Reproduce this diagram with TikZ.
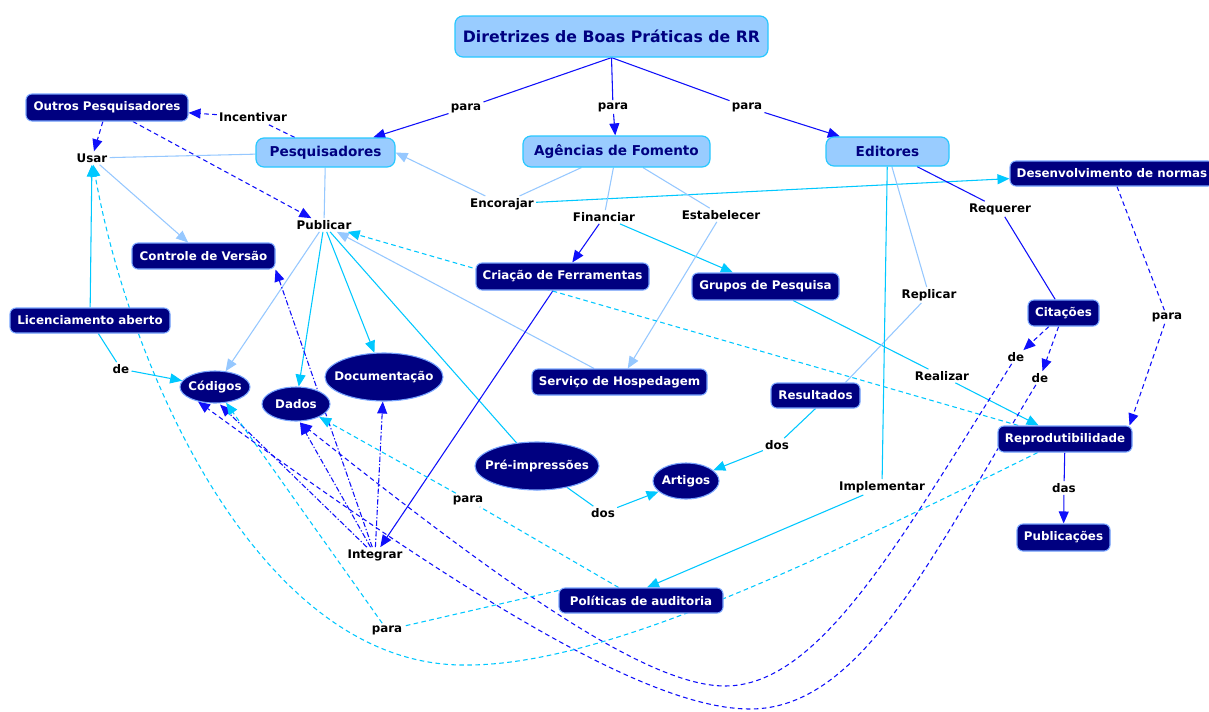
\documentclass[tikz,border=0pt]{standalone}
\usepackage{fontspec}
\setmainfont{DejaVu Sans}
\usetikzlibrary{arrows.meta,calc,shapes.geometric}
\definecolor{navy}{RGB}{0,0,128}
\definecolor{navyrim}{RGB}{120,165,255}
\definecolor{skyfill}{RGB}{153,204,255}
\definecolor{skyrim}{RGB}{40,200,255}
\definecolor{linkblue}{RGB}{15,15,250}
\definecolor{linkcyan}{RGB}{0,200,255}
\definecolor{linklight}{RGB}{150,200,255}
\pgfdeclarelayer{bg}
\pgfdeclarelayer{edges}
\pgfsetlayers{bg,edges,main}
\begin{document}
\begin{tikzpicture}[x=0.75pt,y=-0.75pt,
  sz/.style 2 args={minimum width=#1*0.75pt, minimum height=#2*0.75pt},
  topic/.style={rounded corners=6pt, fill=skyfill, draw=skyrim, line width=0.9pt,
    text=navy, inner sep=0pt, font=\bfseries\fontsize{10.2}{12}\selectfont},
  headline/.style={topic, font=\bfseries\fontsize{11.8}{14}\selectfont},
  concept/.style={rounded corners=4.5pt, fill=navy, draw=navyrim, line width=0.8pt,
    text=white, inner sep=0pt, font=\bfseries\fontsize{8.9}{11}\selectfont},
  oval/.style={ellipse, fill=navy, draw=navyrim, line width=0.8pt,
    text=white, inner sep=0pt, font=\bfseries\fontsize{8.9}{11}\selectfont},
  phrase/.style={text=black, inner sep=1.5pt, font=\bfseries\fontsize{8.9}{11}\selectfont},
  ln/.style={line width=0.8pt},
  blueln/.style={ln, draw=linkblue},
  cyanln/.style={ln, draw=linkcyan},
  lightln/.style={ln, draw=linklight},
  tip/.style={-{Triangle[length=9pt,width=7.5pt]}},
  dsh/.style={dash pattern=on 3.5pt off 2.5pt},
  dotdash/.style={dash pattern=on 4pt off 1.5pt on 1pt off 1.5pt}
]
\useasboundingbox (0,0) rectangle (1209,711);
\begin{pgfonlayer}{bg}
  \fill[white] (0,0) rectangle (1209,711);
\end{pgfonlayer}

% concepts
\node[headline, sz={313}{41}] (dir) at (611.5,36.5) {Diretrizes de Boas Práticas de RR};
\node[topic, sz={139}{29}] (pesq) at (325.5,152.5) {Pesquisadores};
\node[topic, sz={187}{31}] (agen) at (616.5,151.5) {Agências de Fomento};
\node[topic, sz={123}{29}] (edit) at (887.5,151.5) {Editores};
\node[concept, sz={162}{27}] (outros) at (107,107.5) {Outros Pesquisadores};
\node[concept, sz={204}{25}] (desenv) at (1112,173.5) {Desenvolvimento de normas};
\node[concept, sz={143}{26}] (controle) at (203.5,256) {Controle de Versão};
\node[concept, sz={173}{27}] (criacao) at (562.5,276.5) {Criação de Ferramentas};
\node[concept, sz={147}{27}] (grupos) at (765.5,286.5) {Grupos de Pesquisa};
\node[concept, sz={71}{26}] (citacoes) at (1063.5,313) {Citações};
\node[concept, sz={160}{25}] (licenc) at (90,320.5) {Licenciamento aberto};
\node[oval, sz={70}{32}] (codigos) at (215,387) {\makebox[0pt]{Códigos}};
\node[oval, sz={68}{34}] (dados) at (296,404) {\makebox[0pt]{Dados}};
\node[oval, sz={118}{48}] (doc) at (384,377) {\makebox[0pt]{Documentação}};
\node[concept, sz={175}{26}] (servico) at (619.5,382) {Serviço de Hospedagem};
\node[concept, sz={89}{25}] (resultados) at (815.5,395.5) {Resultados};
\node[concept, sz={134}{26}] (reprod) at (1065,439) {Reprodutibilidade};
\node[oval, sz={124}{48}] (preimp) at (537,466) {\makebox[0pt]{Pré-impressões}};
\node[oval, sz={66}{36}] (artigos) at (686,481) {\makebox[0pt]{Artigos}};
\node[concept, sz={93}{27}] (publicacoes) at (1063.5,537.5) {Publicações};
\node[concept, sz={164}{25}] (politicas) at (641,600.5) {Políticas de auditoria};

% linking phrases
\node[phrase] (paraA) at (466,108) {para};
\node[phrase] (paraB) at (613,107) {para};
\node[phrase] (paraC) at (747,107) {para};
\node[phrase] (incentivar) at (253,117) {Incentivar};
\node[phrase] (usar) at (92,158) {Usar};
\node[phrase] (publicar) at (324,225) {Publicar};
\node[phrase] (encorajar) at (502,204) {Encorajar};
\node[phrase] (financiar) at (604,217) {Financiar};
\node[phrase] (estabelecer) at (721,215) {Estabelecer};
\node[phrase] (requerer) at (1000,209) {Requerer};
\node[phrase] (replicar) at (929,295) {Replicar};
\node[phrase] (paraR) at (1167,317) {para};
\node[phrase] (deL) at (121,369) {de};
\node[phrase] (deC1) at (1016,357) {de};
\node[phrase] (deC2) at (1040,378) {de};
\node[phrase] (realizar) at (942,376) {Realizar};
\node[phrase] (dosR) at (777,445) {dos};
\node[phrase] (paraM) at (468,500) {para};
\node[phrase] (dosP) at (603,513) {dos};
\node[phrase] (implementar) at (882,487) {Implementar};
\node[phrase] (das) at (1064,488) {das};
\node[phrase] (integrar) at (375,555) {Integrar};
\node[phrase] (paraB2) at (387,630) {para};

\begin{pgfonlayer}{edges}
% from the guidelines to the three audiences
\draw[blueln] (dir.south) -- (paraA);
\draw[blueln,tip] (paraA) -- (pesq);
\draw[blueln] (dir.south) -- (paraB);
\draw[blueln,tip] (paraB) -- (agen);
\draw[blueln] (dir.south) -- (paraC);
\draw[blueln,tip] (paraC) -- (edit);

% researchers
\draw[blueln,dsh] (pesq) -- (incentivar);
\draw[blueln,dsh,tip] (incentivar) -- (outros);
\draw[blueln,dsh,tip] (outros) -- (usar);
\draw[blueln,dsh,tip] (outros) -- (publicar);
\draw[lightln] (pesq) -- (usar);
\draw[lightln,tip] (usar) -- (controle);
\draw[lightln] (pesq) -- (publicar);
\draw[lightln,tip] (publicar) -- (codigos);
\draw[cyanln,tip] (publicar) -- (dados);
\draw[cyanln,tip] (publicar) -- (doc);
\draw[cyanln] (publicar) -- (preimp);
\draw[cyanln,tip] (licenc) -- (usar);
\draw[cyanln] (licenc) -- (deL);
\draw[cyanln,tip] (deL) -- (codigos);

% funding agencies
\draw[lightln] (agen) -- (encorajar);
\draw[lightln,tip] (encorajar) -- (pesq.east);
\draw[cyanln,tip] (encorajar) -- (desenv);
\draw[lightln] (agen) -- (financiar);
\draw[blueln,tip] (financiar) -- (criacao);
\draw[cyanln,tip] (financiar) -- (grupos);
\draw[lightln] (agen) -- (estabelecer);
\draw[lightln,tip] (estabelecer) -- (servico);
\draw[lightln,tip] (servico) -- (publicar);
\draw[blueln,tip] (criacao) -- (integrar);
\draw[cyanln] (grupos) -- (realizar);
\draw[cyanln,tip] (realizar) -- (reprod);
\draw[cyanln,dsh,tip] (reprod) -- (publicar);

% editors
\draw[blueln] (edit) -- (requerer);
\draw[blueln] (requerer) -- (citacoes);
\draw[lightln] (edit) -- (replicar);
\draw[lightln] (replicar) -- ($(resultados.north)+(30,0)$);
\draw[cyanln] (edit) -- (implementar);
\draw[cyanln,tip] (implementar) -- ($(politicas.north)+(6,0)$);
\draw[cyanln] (resultados.south) -- (dosR);
\draw[cyanln,tip] (dosR) -- (artigos);
\draw[cyanln] (preimp) -- (dosP);
\draw[cyanln,tip] (dosP) -- (artigos);
\draw[blueln,dsh] (desenv) -- (paraR);
\draw[blueln,dsh,tip] (paraR) -- ($(reprod.north east)+(-3,0)$);
\draw[blueln] (reprod) -- (das);
\draw[blueln,tip] (das) -- (publicacoes);

% citations of data and code
\draw[blueln,dsh,tip] (citacoes) -- (deC1);
\draw[blueln,dsh,tip] (citacoes) -- (deC2);
\draw[blueln,dsh,tip] (deC1) .. controls (900,540) and (820,686) .. (725,686)
  .. controls (640,686) and (480,565) .. ($(dados.south)+(4,1)$);
\draw[blueln,dsh,tip] (deC2) .. controls (930,560) and (860,709) .. (750,709)
  .. controls (650,709) and (470,600) .. ($(codigos.south)+(-17,-2)$);

% integration of the tools
\draw[blueln,dotdash,tip] (integrar) -- ($(codigos.south)+(5,1)$);
\draw[blueln,dotdash,tip] (integrar) -- ($(dados.south)+(4,1)$);
\draw[blueln,dotdash,tip] (integrar) -- (doc);
\draw[blueln,dotdash,tip] (integrar) -- (controle.south east);

% audit policies
\draw[cyanln,dsh] (politicas) -- (paraM);
\draw[cyanln,dsh,tip] (paraM) -- (dados);
\draw[cyanln,dsh] ($(politicas.west)+(0,-10)$) -- (paraB2);
\draw[cyanln,dsh,tip] (paraB2) -- (codigos);
\draw[cyanln,dsh,tip] (reprod) .. controls (800,570) and (600,665) .. (467,665)
  .. controls (260,668) and (130,370) .. (usar);
\end{pgfonlayer}
\end{tikzpicture}
\end{document}
